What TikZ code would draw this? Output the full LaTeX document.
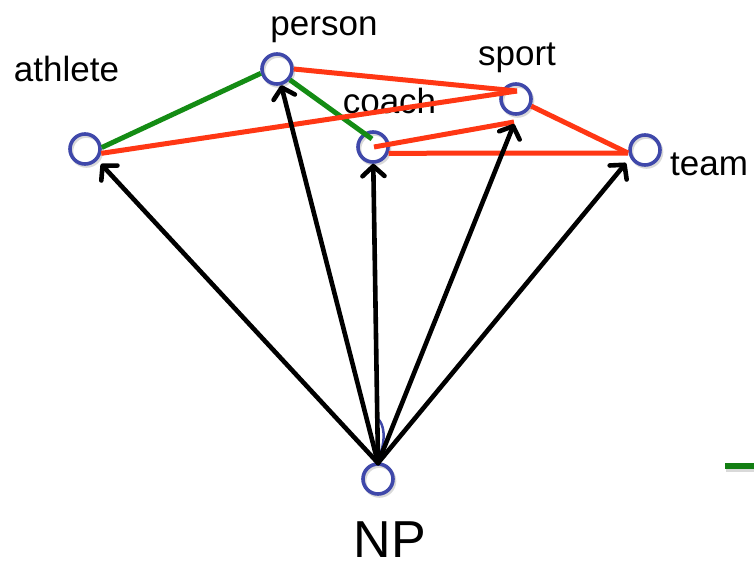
\documentclass[tikz,border=0pt]{standalone}
\usepackage{fontspec}
\setmainfont{Liberation Sans}
\usetikzlibrary{arrows.meta,calc}
\definecolor{ringblue}{RGB}{63,72,170}
\definecolor{linkred}{RGB}{255,55,20}
\definecolor{linkgreen}{RGB}{20,140,20}
\begin{document}
\begin{tikzpicture}[x=1pt,y=-1pt,
  concept/.style={circle, draw=ringblue, line width=3.6pt, minimum size=30pt, inner sep=0pt},
  ringshadow/.style={draw=black!15, line width=3.6pt},
  lbl/.style={font=\fontsize{35}{40}\selectfont, anchor=base, inner sep=0pt},
  biglbl/.style={font=\fontsize{52}{58}\selectfont, anchor=base, inner sep=0pt},
  greenlink/.style={draw=linkgreen, line width=5pt},
  redlink/.style={draw=linkred, line width=5pt},
  arrowlink/.style={draw=black, line width=4.6pt, line cap=round,
    -{Straight Barb[length=10pt,width=22pt,round]}},
]
\useasboundingbox (0,0) rectangle (754,565);

% soft shadows under the rings
\foreach \cx/\cy in {85/149, 277/69, 516/99, 373/147, 645/150, 378/479}
  \draw[ringshadow] (\cx+1.5,\cy+2) circle (15);

% concept rings
\node[concept] (athlete) at (85,149) {};
\node[concept] (person)  at (277,69) {};
\node[concept] (sport)   at (516,99) {};
\node[concept] (coach)   at (373,147) {};
\node[concept] (team)    at (645,150) {};
\node[concept] (np)      at (378,479) {};

% labels
\node[lbl] (athleteL) at (66.5,81) {athlete};
\node[lbl] (personL)  at (324,35)  {person};
\node[lbl] (sportL)   at (517,65)  {sport};
\node[lbl] (coachL)   at (389.5,113) {coach};
\node[lbl] (teamL)    at (709,175) {team};
\node[biglbl] (npL)   at (390,557) {NP};

% end points inside or near the rings
\coordinate (sportTop)  at (517,91);
\coordinate (sportLow)  at (514,122);
\coordinate (coachMid)  at (374,147);
\coordinate (coachUp)   at (372,139);
\coordinate (teamLeft)  at (628,153);
\coordinate (npTop)     at (378,463);
\coordinate (athleteTip) at (101,164);
\coordinate (sportTip)  at (514,124);
\coordinate (teamTip)   at (626,163);
\coordinate (strayA)    at (377,418);
\coordinate (strayB)    at (381,452);
\coordinate (legendA)   at (725,466);
\coordinate (legendB)   at (760,466);

% green links
\draw[greenlink] (athlete.5) -- (person.195);
\draw[greenlink] (person.-40) -- (coachUp);

% red links
\draw[redlink] (person.0) -- (sportTop);
\draw[redlink] (athlete.-15) -- (sportTop);
\draw[redlink] (coachMid) -- (sportLow);
\draw[redlink] (coach.-22) -- (teamLeft);
\draw[redlink] (sport.-25) -- (teamLeft);

% small blue stroke near NP
\draw[draw=ringblue, line width=2.5pt] (strayA) .. controls (385,424) and (385,440) .. (strayB);

% arrows from NP
\draw[arrowlink] (npTop) -- (athleteTip);
\draw[arrowlink] (npTop) -- (person);
\draw[arrowlink] (npTop) -- (coach);
\draw[arrowlink] (npTop) -- (sportTip);
\draw[arrowlink] (npTop) -- (teamTip);

% green stroke at the right edge
\draw[draw=black!15, line width=5.5pt] ($(legendA)+(1,3)$) -- ($(legendB)+(1,3)$);
\draw[draw=linkgreen!90!black, line width=5.5pt] (legendA) -- (legendB);
\end{tikzpicture}
\end{document}
